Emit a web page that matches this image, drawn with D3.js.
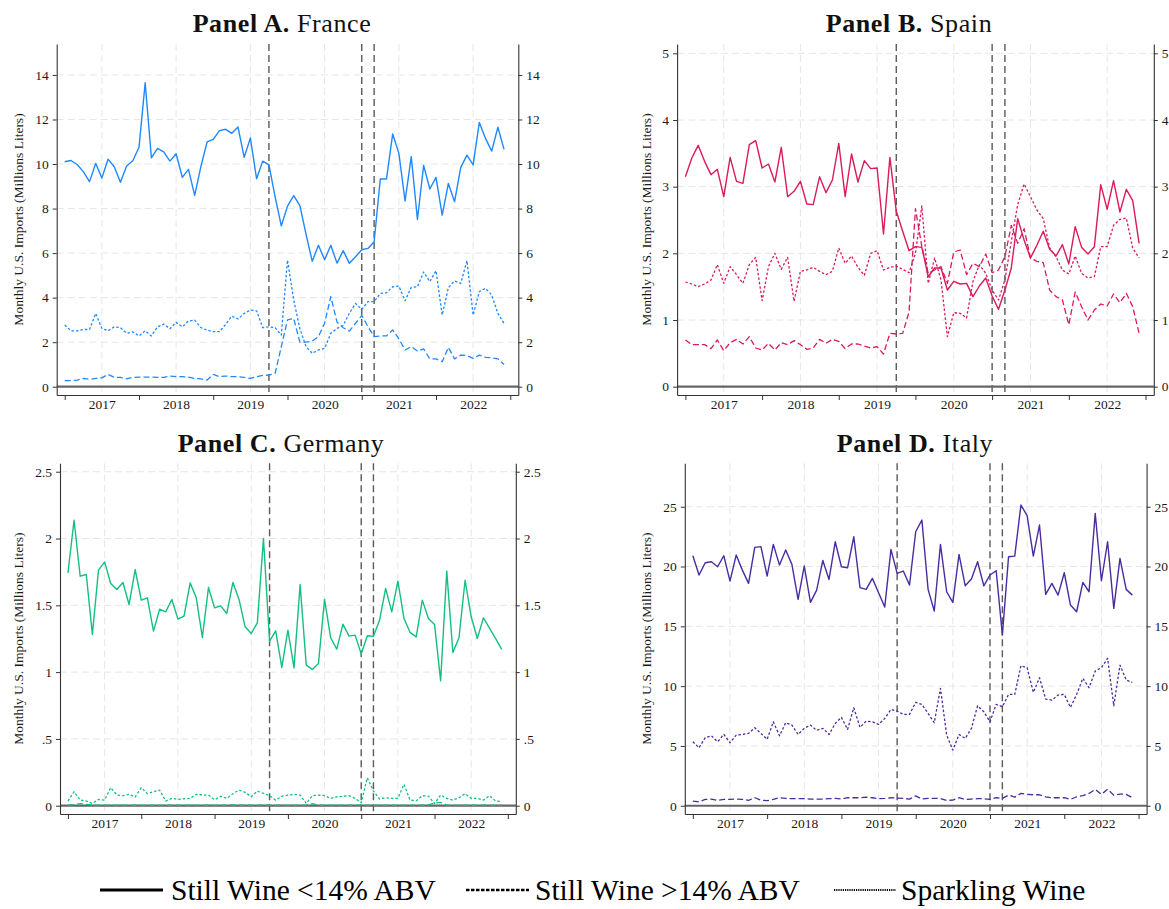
<!DOCTYPE html>
<html><head><meta charset="utf-8">
<script src="https://cdn.jsdelivr.net/npm/d3@7"></script>
<style>
body{margin:0;background:#fff}
svg{display:block}
text{font-family:"Liberation Serif","Times New Roman",serif}
</style>
</head><body>
<svg id="chart" width="1169" height="909"></svg>
<script>
// ---------- DATA ----------
const yearLabels = ["2017","2018","2019","2020","2021","2022"];
const months = d3.range(72).map(i => `${2017+Math.floor(i/12)}-${String(i%12+1).padStart(2,"0")}`);
const eventDates = ["2019-10","2021-01","2021-03"];

const franceStill = [10.10,10.16,9.98,9.66,9.21,10.03,9.37,10.22,9.88,9.18,9.91,10.15,
  10.75,13.65,10.28,10.70,10.55,10.13,10.46,9.40,9.76,8.59,9.88,10.99,
  11.11,11.50,11.56,11.38,11.66,10.30,11.17,9.34,10.13,9.96,8.53,7.22,
  8.11,8.58,8.13,6.84,5.63,6.35,5.70,6.35,5.55,6.11,5.54,5.84,
  6.15,6.21,6.51,9.33,9.33,11.35,10.48,8.34,10.33,7.51,9.94,8.88,
  9.40,7.71,9.13,8.31,9.85,10.40,9.96,11.87,11.15,10.58,11.65,10.66];
const franceHigh = [0.27,0.27,0.30,0.37,0.33,0.37,0.40,0.55,0.42,0.42,0.35,0.42,
  0.43,0.43,0.43,0.42,0.42,0.48,0.45,0.45,0.43,0.37,0.35,0.30,
  0.55,0.45,0.48,0.45,0.45,0.42,0.37,0.45,0.51,0.52,0.60,1.80,
  3.00,3.07,2.00,2.00,2.05,2.25,2.85,4.05,2.90,2.65,2.50,2.85,
  3.20,2.70,2.25,2.28,2.28,2.55,2.15,1.65,1.80,1.60,1.70,1.25,
  1.25,1.12,1.77,1.25,1.42,1.40,1.27,1.42,1.32,1.30,1.25,1.00];
const franceSparkling = [2.77,2.51,2.51,2.57,2.57,3.29,2.62,2.51,2.69,2.65,2.40,2.46,
  2.28,2.51,2.28,2.69,2.81,2.60,2.89,2.69,2.95,2.99,2.65,2.54,
  2.47,2.47,2.80,3.17,3.04,3.29,3.44,3.41,2.65,2.69,2.65,2.32,
  5.69,3.90,2.60,1.80,1.50,1.65,1.72,2.40,2.62,2.75,3.30,3.74,
  3.47,3.82,3.82,4.19,4.22,4.49,4.52,3.86,4.46,4.49,5.15,4.72,
  5.21,3.22,4.45,4.75,4.64,5.66,3.22,4.27,4.42,4.12,3.29,2.84];

const spainStill = [3.15,3.43,3.62,3.38,3.18,3.26,2.85,3.44,3.08,3.05,3.63,3.69,
  3.28,3.34,3.07,3.59,2.85,2.93,3.08,2.74,2.73,3.15,2.91,3.10,
  3.65,2.85,3.49,3.07,3.39,3.27,3.28,2.29,3.44,2.63,2.33,2.04,
  2.10,2.09,1.65,1.78,1.78,1.45,1.58,1.54,1.55,1.35,1.51,1.63,
  1.36,1.16,1.45,1.78,2.52,2.20,1.93,2.12,2.33,2.06,1.96,2.13,
  1.84,2.40,2.09,1.99,2.10,3.03,2.66,3.09,2.62,2.96,2.79,2.15];
const spainHigh = [0.70,0.63,0.63,0.63,0.57,0.70,0.54,0.66,0.71,0.64,0.75,0.58,
  0.55,0.65,0.55,0.66,0.63,0.69,0.63,0.56,0.58,0.71,0.65,0.71,
  0.68,0.57,0.64,0.64,0.61,0.58,0.60,0.49,0.80,0.79,0.80,1.12,
  2.67,2.10,1.70,1.75,1.80,1.55,2.02,2.05,1.68,1.85,1.80,1.99,
  1.71,1.75,1.95,2.42,2.15,2.37,1.93,1.88,1.86,1.45,1.35,1.30,
  0.93,1.42,1.20,1.00,1.15,1.24,1.21,1.39,1.26,1.40,1.20,0.80];
const spainSparkling = [1.57,1.54,1.50,1.54,1.60,1.83,1.55,1.80,1.68,1.55,1.83,1.94,
  1.29,1.80,2.00,1.76,1.94,1.28,1.73,1.75,1.79,1.73,1.68,1.73,
  2.08,1.85,1.96,1.79,1.67,2.00,2.04,1.75,1.79,1.81,1.76,1.71,
  2.00,2.71,1.55,1.93,1.60,0.75,1.11,1.10,1.03,1.58,1.83,1.70,
  1.45,1.30,1.60,2.18,2.73,3.04,2.85,2.65,2.52,2.08,1.95,1.75,
  1.69,1.96,1.70,1.63,1.65,2.10,2.10,2.42,2.51,2.53,2.08,1.93];

const germanyStill = [1.743,2.137,1.718,1.731,1.282,1.763,1.825,1.663,1.618,1.671,1.506,1.768,
  1.539,1.556,1.307,1.471,1.451,1.544,1.397,1.419,1.668,1.556,1.259,1.633,
  1.481,1.496,1.439,1.671,1.544,1.339,1.289,1.369,2.000,1.232,1.309,1.035,
  1.314,1.032,1.656,1.052,1.020,1.065,1.544,1.257,1.172,1.359,1.269,1.277,
  1.135,1.272,1.269,1.389,1.626,1.451,1.681,1.401,1.297,1.264,1.539,1.401,
  1.357,0.935,1.756,1.147,1.257,1.688,1.414,1.252,1.406,1.330,1.250,1.170];
const germanyHigh = [0.005,0.008,0.015,0.010,0.005,0.004,0.005,0.004,0.005,0.004,0.004,0.005,
  0.004,0.005,0.004,0.004,0.005,0.004,0.004,0.005,0.004,0.004,0.005,0.004,
  0.005,0.004,0.005,0.006,0.005,0.004,0.004,0.005,0.006,0.005,0.004,0.004,
  0.004,0.005,0.004,0.006,0.015,0.005,0.004,0.004,0.005,0.004,0.004,0.005,
  0.006,0.005,0.004,0.004,0.005,0.004,0.004,0.005,0.004,0.004,0.005,0.006,
  0.020,0.025,0.005,0.004,0.004,0.005,0.004,0.004,0.005,0.004,0.004,0.005];
const germanySparkling = [0.035,0.105,0.042,0.035,0.017,0.047,0.042,0.135,0.080,0.075,0.085,0.065,
  0.135,0.090,0.105,0.117,0.035,0.055,0.047,0.052,0.055,0.085,0.080,0.080,
  0.045,0.070,0.055,0.090,0.117,0.100,0.067,0.110,0.092,0.075,0.042,0.070,
  0.080,0.085,0.080,0.017,0.075,0.080,0.075,0.055,0.067,0.070,0.075,0.055,
  0.022,0.209,0.110,0.050,0.060,0.055,0.055,0.160,0.042,0.037,0.075,0.072,
  0.017,0.080,0.055,0.042,0.060,0.090,0.055,0.055,0.042,0.075,0.035,0.030];

const italyStill = [20.90,19.29,20.32,20.40,19.98,20.90,18.78,20.96,19.70,18.59,21.60,21.66,
  19.20,21.85,20.12,21.38,20.18,17.25,20.04,17.00,18.03,20.51,18.92,22.07,
  19.98,19.90,22.49,18.23,18.09,19.01,17.81,16.61,21.43,19.43,19.62,18.45,
  22.91,23.89,18.09,16.28,21.85,17.89,17.00,21.01,18.39,18.95,20.40,18.39,
  19.29,19.65,14.27,20.82,20.87,25.14,24.25,20.87,23.47,17.67,18.59,17.61,
  19.48,16.78,16.22,18.67,17.89,24.44,18.81,22.07,16.50,20.68,18.09,17.61];
const italyHigh = [0.39,0.33,0.53,0.56,0.45,0.53,0.53,0.56,0.53,0.45,0.67,0.47,
  0.42,0.53,0.67,0.61,0.59,0.59,0.59,0.56,0.56,0.56,0.59,0.61,
  0.56,0.67,0.67,0.67,0.72,0.67,0.59,0.61,0.67,0.64,0.61,0.56,
  0.82,0.56,0.61,0.61,0.61,0.45,0.47,0.67,0.53,0.56,0.59,0.59,
  0.53,0.67,0.61,0.89,0.72,1.03,0.95,0.92,0.92,0.75,0.67,0.67,
  0.67,0.53,0.75,0.84,1.03,1.37,0.95,1.39,0.89,0.98,0.95,0.67];
const italySparkling = [5.35,4.85,5.69,5.85,5.35,5.96,5.27,5.91,5.96,6.05,6.52,6.05,
  5.55,7.02,5.85,6.94,6.74,5.96,6.47,6.74,6.30,6.47,5.96,6.88,
  7.39,6.38,8.19,6.55,7.08,7.02,6.80,7.30,8.05,7.92,7.64,7.64,
  8.64,8.47,7.72,6.94,9.81,5.91,4.65,5.96,5.63,6.47,8.36,7.86,
  7.02,8.47,8.28,9.31,9.31,11.71,11.54,9.48,10.70,8.92,8.83,9.25,
  9.31,8.22,9.31,10.65,9.87,11.26,11.54,12.32,8.36,11.76,10.51,10.31];

const ticksA = [0,2,4,6,8,10,12,14];
const ticksB = [0,1,2,3,4,5];
const ticksC = [0,0.5,1,1.5,2,2.5];
const ticksD = [0,5,10,15,20,25];

const seriesNames = ["Still Wine <14% ABV","Still Wine >14% ABV","Sparkling Wine"];

// ---------- LAYOUT / STYLE ----------
const panels = [
  {title:"Panel A.", country:"France", color:"#1E88FF", data:[franceStill,franceHigh,franceSparkling], ticks:ticksA,
   left:56.7, right:518.3, top:44, bottom:395, yDom:[-0.372,15.39], titleX:282, titleY:32, ylabX:18},
  {title:"Panel B.", country:"Spain", color:"#DB1A5C", data:[spainStill,spainHigh,spainSparkling], ticks:ticksB,
   left:677.1, right:1153.8, top:44, bottom:395, yDom:[-0.125,5.14], titleX:909, titleY:32, ylabX:646},
  {title:"Panel C.", country:"Germany", color:"#14BF80", data:[germanyStill,germanyHigh,germanySparkling], ticks:ticksC,
   left:60, right:515.8, top:463.3, bottom:814, yDom:[-0.062,2.563], titleX:281, titleY:452, ylabX:18},
  {title:"Panel D.", country:"Italy", color:"#4A2BA0", data:[italyStill,italyHigh,italySparkling], ticks:ticksD,
   left:684.8, right:1146.6, top:463.3, bottom:814, yDom:[-0.69,28.63], titleX:915, titleY:452, ylabX:646}
];
const dashes = [null, "6,3", "2.5,2"];
const fmt = d => d === 0 ? "0" : String(d).replace(/^0\./, ".");

const svg = d3.select("#chart");
svg.append("rect").attr("width",1169).attr("height",909).attr("fill","#fff");

panels.forEach(p => {
  const x = d3.scaleLinear().domain([-1.3, 73.3]).range([p.left, p.right]);
  const y = d3.scaleLinear().domain(p.yDom).range([p.bottom, p.top]);
  const g = svg.append("g");

  g.selectAll(".hg").data(p.ticks.filter(t => t !== 0)).join("line")
    .attr("x1", p.left).attr("x2", p.right)
    .attr("y1", d => y(d)).attr("y2", d => y(d))
    .attr("stroke", "#e6e6e6").attr("stroke-width", 1).attr("stroke-dasharray", "7,4");
  const labelMonths = yearLabels.map(yl => months.indexOf(yl + "-07"));
  g.selectAll(".vg").data(labelMonths).join("line")
    .attr("x1", d => x(d)).attr("x2", d => x(d))
    .attr("y1", p.top).attr("y2", p.bottom)
    .attr("stroke", "#e6e6e6").attr("stroke-width", 1).attr("stroke-dasharray", "7,4");

  g.selectAll(".ev").data(eventDates.map(d => months.indexOf(d))).join("line")
    .attr("x1", d => x(d)).attr("x2", d => x(d))
    .attr("y1", p.top).attr("y2", p.bottom)
    .attr("stroke", "#5a5a5a").attr("stroke-width", 1.4).attr("stroke-dasharray", "7,4");

  g.append("line").attr("x1", p.left).attr("x2", p.right)
    .attr("y1", y(0)).attr("y2", y(0))
    .attr("stroke", "#666").attr("stroke-width", 2.2);

  const line = d3.line().x((d, i) => x(i)).y(d => y(d));
  p.data.forEach((s, k) => {
    g.append("path").datum(s).attr("d", line)
      .attr("fill", "none").attr("stroke", p.color)
      .attr("stroke-width", k === 0 ? 1.4 : 1.3)
      .attr("stroke-linejoin", "round")
      .attr("stroke-dasharray", dashes[k]);
  });

  const styleAxis = a => {
    a.select(".domain").attr("stroke", "#333").attr("stroke-width", 1.1);
    a.selectAll(".tick line").attr("stroke", "#333");
    a.selectAll("text").attr("font-family", '"Liberation Serif","Times New Roman",serif')
      .attr("font-size", 13.5).attr("fill", "#1a1a1a");
  };
  g.append("g").attr("transform", `translate(${p.left},0)`)
    .call(d3.axisLeft(y).tickValues(p.ticks).tickFormat(fmt).tickSize(4).tickSizeOuter(0).tickPadding(4))
    .call(styleAxis);
  g.append("g").attr("transform", `translate(${p.right},0)`)
    .call(d3.axisRight(y).tickValues(p.ticks).tickFormat(fmt).tickSize(4).tickSizeOuter(0).tickPadding(4))
    .call(styleAxis);
  const yearStarts = d3.range(7).map(i => i * 12);
  g.append("g").attr("transform", `translate(0,${p.bottom})`)
    .call(d3.axisBottom(x).tickValues(yearStarts).tickFormat("").tickSize(5).tickSizeOuter(0))
    .call(styleAxis);
  const lab = g.append("g").attr("transform", `translate(0,${p.bottom})`)
    .call(d3.axisBottom(x).tickValues(labelMonths).tickFormat((d, i) => yearLabels[i]).tickSize(0).tickPadding(4))
    .call(styleAxis);
  lab.select(".domain").remove();

  g.append("text")
    .attr("transform", `translate(${p.ylabX},${(p.top + p.bottom) / 2}) rotate(-90)`)
    .attr("text-anchor", "middle").attr("dominant-baseline", "central")
    .attr("font-size", 13.5).attr("fill", "#1a1a1a")
    .text("Monthly U.S. Imports (Millions Liters)");

  const t = g.append("text").attr("x", p.titleX).attr("y", p.titleY)
    .attr("text-anchor", "middle").attr("font-size", 26).attr("letter-spacing", 0.6).attr("fill", "#111");
  t.append("tspan").attr("font-weight", "bold").text(p.title);
  t.append("tspan").text(" " + p.country);
});

const legend = svg.append("g");
const legItems = [
  {x1:100, x2:163, tx:171, dash:null, w:3},
  {x1:466, x2:529, tx:535, dash:"3.5,1.5", w:2.6},
  {x1:834, x2:896, tx:901, dash:"1.2,1", w:2.2}
];
legItems.forEach((it, i) => {
  legend.append("line").attr("x1", it.x1).attr("x2", it.x2).attr("y1", 890).attr("y2", 890)
    .attr("stroke", "#000").attr("stroke-width", it.w).attr("stroke-dasharray", it.dash);
  legend.append("text").attr("x", it.tx).attr("y", 900).attr("font-size", 29.5).attr("fill", "#000")
    .text(seriesNames[i]);
});
</script>
</body></html>
